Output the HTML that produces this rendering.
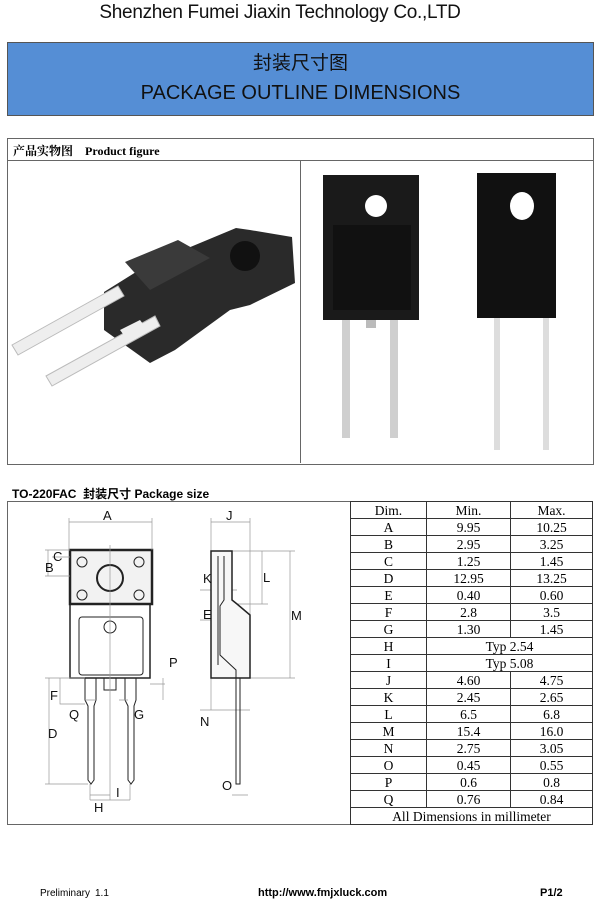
<!DOCTYPE html>
<html><head><meta charset="utf-8"><style>
body{margin:0;width:600px;height:906px;background:#fff;position:relative;overflow:hidden;font-family:"Liberation Sans","Noto Sans CJK SC",sans-serif}
.a{position:absolute;white-space:nowrap}
table{border-collapse:collapse;position:absolute;left:350px;top:501px;width:243px;table-layout:fixed;font-family:"Liberation Serif","Noto Serif CJK SC",serif;font-size:13.5px}
tr{height:17px}
td{border:1px solid #333;padding:0;text-align:center;line-height:15px}
</style></head><body>
<div class="a" style="left:0;width:560px;top:2px;text-align:center;font-size:19px;color:#111;letter-spacing:-0.3px">Shenzhen Fumei Jiaxin Technology Co.,LTD</div>
<div class="a" style="left:7px;top:42px;width:585px;height:72px;background:#558ed5;border:1px solid #555"></div>
<div class="a" style="left:7px;width:587px;top:48px;text-align:center;font-size:19px;color:#111">封装尺寸图</div>
<div class="a" style="left:7px;width:587px;top:82px;text-align:center;font-size:20px;color:#111">PACKAGE OUTLINE DIMENSIONS</div>
<div class="a" style="left:7px;top:138px;width:585px;height:325px;border:1px solid #666"></div>
<div class="a" style="left:7px;top:160px;width:587px;border-top:1px solid #666"></div>
<div class="a" style="left:300px;top:160px;height:303px;border-left:1px solid #666"></div>
<div class="a" style="left:13px;top:142px;font-size:12px;font-weight:bold;font-family:'Liberation Serif','Noto Serif CJK SC',serif">产品实物图&nbsp;&nbsp;&nbsp; Product figure</div>
<svg class="a" style="left:0;top:0" width="600" height="906">
<!-- left 3D photo -->
<polygon points="104,292 168,252 188,248 236,228 250,230 292,237 295,283 250,305 230,310 175,350 150,363 104,330" fill="#2a2a2a"/>
<polygon points="125,262 178,240 210,258 150,290" fill="#3a3a3a"/>
<circle cx="245" cy="256" r="15" fill="#111"/>
<polygon points="12,345 118,286 124,296 18,355" fill="#eee" stroke="#bbb"/>
<polygon points="46,376 155,316 160,326 52,386" fill="#eee" stroke="#bbb"/>
<polygon points="120,330 140,320 146,328 126,338" fill="#eee"/>
<!-- middle photo -->
<rect x="323" y="175" width="96" height="145" fill="#1a1a1a"/>
<rect x="333" y="225" width="78" height="85" fill="#111"/>
<circle cx="376" cy="206" r="11" fill="#fff"/>
<rect x="342" y="320" width="8" height="118" fill="#cfcfcf"/>
<rect x="390" y="320" width="8" height="118" fill="#cfcfcf"/>
<rect x="366" y="320" width="10" height="8" fill="#bbb"/>
<!-- right photo -->
<rect x="477" y="173" width="79" height="145" fill="#111"/>
<ellipse cx="522" cy="206" rx="12" ry="14" fill="#fff"/>
<rect x="494" y="318" width="6" height="132" fill="#ddd"/>
<rect x="543" y="318" width="6" height="132" fill="#ddd"/>
<!-- section 2 box -->
<rect x="7.5" y="501.5" width="585" height="323" fill="none" stroke="#666"/>
<g stroke="#222" fill="none" stroke-width="1">
<rect x="70" y="550" width="82" height="54" stroke-width="2.5" fill="#f2f2f2"/>
<rect x="70" y="604" width="80" height="74" stroke-width="1.5"/>
<rect x="79" y="617" width="64" height="58" rx="3"/>
<circle cx="110" cy="578" r="13" stroke-width="2"/>
<circle cx="82" cy="562" r="5"/><circle cx="139" cy="562" r="5"/><circle cx="82" cy="595" r="5"/><circle cx="139" cy="595" r="5"/>
<circle cx="110" cy="627" r="6"/>
<path d="M85,678 V700 L88,706 V780 L91,784 L94,780 V706 L96,700 V678"/>
<path d="M125,678 V700 L128,706 V780 L131,784 L134,780 V706 L136,700 V678"/>
<rect x="104" y="678" width="12" height="12"/>
<g stroke="#999" stroke-width="0.7">
<path d="M110,545 V800 M69,518 V550 M152,518 V550 M69,522 H152 M45,550 H70 M45,576 H70 M52,557 H70 M45,678 H85 M60,678 V704 H85 M45,784 H88 M49,678 V784 M90,784 V800 M130,784 V800 M90,800 H130 M90,795 H110 M163,678 V700 M150,684 H165 M119,700 H128 M84,700 H97 M48,550 V576"/>
<path d="M211,518 V551 M250,518 V615 M211,522 H250 M232,551 H295 M237,604 H268 M262,551 V604 M250,678 H295 M290,551 V678 M200,590 H237 M200,620 H220 M211,678 V710 M200,710 H250 M232,795 H248"/>
</g>
<path d="M211,551 H232 V600 L237,604 L250,615 V678 H211 Z" stroke-width="1.5" fill="#f7f7f7"/>
<path d="M218,556 V665 M224,556 V600 L220,606 V655 L236,670 V678"/>
<path d="M236,678 V784 H240 V678"/>
</g>
<g font-size="13" fill="#111" font-family="Liberation Sans,sans-serif">
<text x="103" y="520">A</text><text x="53" y="561">C</text><text x="45" y="572">B</text>
<text x="48" y="738">D</text><text x="50" y="700">F</text><text x="69" y="719">Q</text>
<text x="134" y="719">G</text><text x="169" y="667">P</text><text x="94" y="812">H</text><text x="116" y="797">I</text>
<text x="226" y="520">J</text><text x="203" y="583">K</text><text x="263" y="582">L</text><text x="291" y="620">M</text>
<text x="203" y="619">E</text><text x="200" y="726">N</text><text x="222" y="790">O</text>
</g>
</svg>
<div class="a" style="left:12px;top:485px;font-size:12px;font-weight:bold">TO-220FAC&nbsp; 封装尺寸 Package size</div>
<table>
<col style="width:76px"><col style="width:84px"><col>
<tr><td>Dim.</td><td>Min.</td><td>Max.</td></tr>
<tr><td>A</td><td>9.95</td><td>10.25</td></tr>
<tr><td>B</td><td>2.95</td><td>3.25</td></tr>
<tr><td>C</td><td>1.25</td><td>1.45</td></tr>
<tr><td>D</td><td>12.95</td><td>13.25</td></tr>
<tr><td>E</td><td>0.40</td><td>0.60</td></tr>
<tr><td>F</td><td>2.8</td><td>3.5</td></tr>
<tr><td>G</td><td>1.30</td><td>1.45</td></tr>
<tr><td>H</td><td colspan="2">Typ 2.54</td></tr>
<tr><td>I</td><td colspan="2">Typ 5.08</td></tr>
<tr><td>J</td><td>4.60</td><td>4.75</td></tr>
<tr><td>K</td><td>2.45</td><td>2.65</td></tr>
<tr><td>L</td><td>6.5</td><td>6.8</td></tr>
<tr><td>M</td><td>15.4</td><td>16.0</td></tr>
<tr><td>N</td><td>2.75</td><td>3.05</td></tr>
<tr><td>O</td><td>0.45</td><td>0.55</td></tr>
<tr><td>P</td><td>0.6</td><td>0.8</td></tr>
<tr><td>Q</td><td>0.76</td><td>0.84</td></tr>
<tr><td colspan="3">All Dimensions in millimeter</td></tr>
</table>
<div class="a" style="left:40px;top:888px;font-size:10px">Preliminary</div>
<div class="a" style="left:95px;top:888px;font-size:10px">1.1</div>
<div class="a" style="left:258px;top:887px;font-size:11px;font-weight:bold">http://www.fmjxluck.com</div>
<div class="a" style="left:540px;top:887px;font-size:11px;font-weight:bold">P1/2</div>
</body></html>
